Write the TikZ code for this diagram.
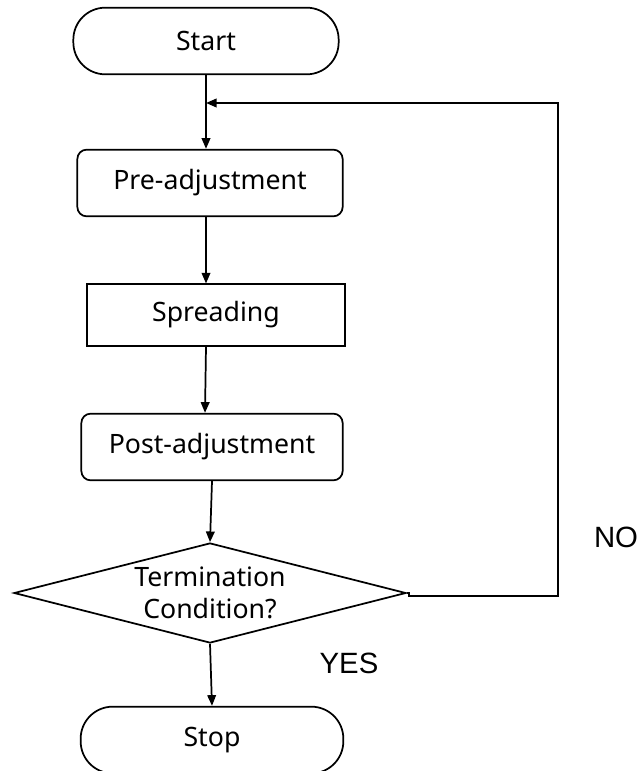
\documentclass[tikz,border=0pt]{standalone}
\usepackage{fontspec}
\setmainfont{Noto Sans}
\newfontfamily\labelfont{Liberation Sans}
\usetikzlibrary{shapes.geometric,arrows.meta}

\tikzset{
  base/.style={draw, line width=1.3pt, font=\fontsize{20pt}{24pt}\selectfont, inner sep=0pt, align=center},
  terminal/.style={base, rounded corners=24pt, minimum height=50pt},
  roundbox/.style={base, rounded corners=7pt, minimum height=50pt},
  plainbox/.style={base, minimum height=46pt},
  decision/.style={base, shape=diamond, aspect=3.92, minimum width=294pt, minimum height=75pt},
  arr/.style={line width=1.3pt, -{Triangle[length=8pt,width=6.5pt]}},
  branch/.style={font=\labelfont\fontsize{22pt}{24pt}\selectfont}
}

\begin{document}
\begin{tikzpicture}[x=0.75pt, y=-0.75pt]
  \useasboundingbox[fill=white] (0,0) rectangle (640,771);

  % process steps
  \node[terminal, minimum width=199pt] (start) at (206,41) {Start};
  \node[roundbox, minimum width=199pt] (pre) at (210,183) {Pre-adjustment};
  \node[plainbox, minimum width=193pt] (spread) at (216,315) {Spreading};
  \node[roundbox, minimum width=196pt] (post) at (212,447) {Post-adjustment};
  \node[decision] (dia) at (210,593) {Termination\\Condition?};
  \node[terminal, minimum width=197pt] (stop) at (212,740) {Stop};

  % branch labels
  \node[branch] (yes) at (349,663) {YES};
  \node[branch] (no) at (616,537) {NO};

  % merge point of the loop-back line
  \coordinate (join) at (206,103);

  % main flow
  \draw[arr] (start.south) -- (pre.north -| start.south);
  \draw[arr] (pre.south -| start.south) -- (spread.north -| start.south);
  \draw[arr] (spread.south -| start.south) -- (post.north -| 205,0);
  \draw[arr] (post.south) -- (dia.north);
  \draw[arr] (dia.south) -- (stop.north);

  % loop back on NO
  \draw[arr] (dia.east) -- ++(2,0) -- ++(0,3) -- (558,596) -- (558,103) -- (join);
\end{tikzpicture}
\end{document}
